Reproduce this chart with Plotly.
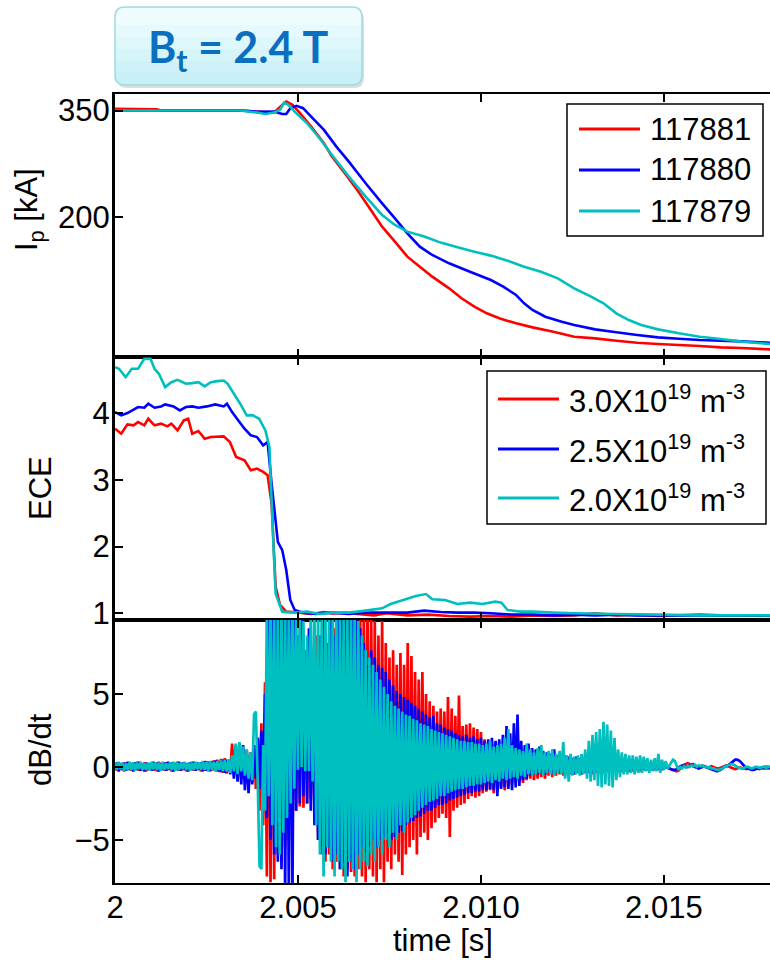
import numpy as np
import plotly.graph_objects as go

# ---------------- data ----------------
shots = ["117881", "117880", "117879"]
densities = ["3.0X10<sup>19</sup> m<sup>-3</sup>",
             "2.5X10<sup>19</sup> m<sup>-3</sup>",
             "2.0X10<sup>19</sup> m<sup>-3</sup>"]
colors = ["#ff0000", "#0000ff", "#00bfbf"]

x_tickvals = [2.0, 2.005, 2.010, 2.015]
x_ticktext = ["2", "2.005", "2.010", "2.015"]
ip_tickvals = [200, 350]
ece_tickvals = [1, 2, 3, 4]
dbdt_tickvals = [-5, 0, 5]

# Plasma current Ip [kA]
ip_t_117881 = [2.00000, 2.00114, 2.00126, 2.00342, 2.00399, 2.00434, 2.00457, 2.00468, 2.00485, 2.00502,
               2.00536, 2.00571, 2.00593, 2.00628, 2.00662, 2.00696, 2.00730, 2.00765, 2.00799, 2.00833,
               2.00867, 2.00913, 2.00947, 2.00982, 2.01016, 2.01050, 2.01096, 2.01141, 2.01198, 2.01255,
               2.01312, 2.01370, 2.01427, 2.01484, 2.01541, 2.01598, 2.01655, 2.01712, 2.01790]
ip_117881 = [352.4, 351.9, 350.1, 350.1, 348.2, 347.2, 358.1, 362.8, 358.1, 348.6,
             327.4, 303.8, 285.0, 261.4, 237.8, 211.8, 185.9, 164.7, 143.4, 129.3,
             115.1, 98.6, 84.5, 72.7, 63.3, 56.2, 49.1, 43.4, 37.3, 30.2,
             27.9, 24.6, 21.7, 19.9, 18.4, 17.0, 15.1, 14.2, 12.3]

ip_t_117880 = [2.00000, 2.00342, 2.00399, 2.00434, 2.00457, 2.00468, 2.00479, 2.00496, 2.00514, 2.00536,
               2.00571, 2.00605, 2.00639, 2.00685, 2.00730, 2.00765, 2.00799, 2.00833, 2.00867, 2.00913,
               2.00970, 2.01027, 2.01061, 2.01096, 2.01118, 2.01141, 2.01176, 2.01221, 2.01255, 2.01312,
               2.01370, 2.01427, 2.01484, 2.01541, 2.01598, 2.01655, 2.01712, 2.01790]
ip_117880 = [350.1, 350.1, 348.2, 348.6, 345.3, 345.3, 353.4, 356.7, 353.4, 341.6,
             322.7, 299.1, 277.9, 247.2, 218.9, 197.7, 176.5, 157.6, 145.8, 134.0,
             122.2, 110.4, 101.0, 89.2, 77.4, 68.0, 58.5, 51.5, 46.7, 40.6,
             36.4, 32.6, 29.3, 27.4, 25.5, 24.6, 23.6, 21.7]

ip_t_117879 = [2.00000, 2.00342, 2.00388, 2.00411, 2.00434, 2.00451, 2.00462, 2.00474, 2.00491, 2.00525,
               2.00559, 2.00593, 2.00639, 2.00685, 2.00730, 2.00765, 2.00799, 2.00845, 2.00890, 2.00936,
               2.00982, 2.01027, 2.01073, 2.01118, 2.01164, 2.01210, 2.01255, 2.01301, 2.01335, 2.01370,
               2.01404, 2.01438, 2.01484, 2.01541, 2.01598, 2.01655, 2.01712, 2.01790]
ip_117879 = [350.1, 350.1, 347.2, 345.3, 347.2, 351.0, 361.4, 358.1, 348.6, 332.1,
             310.9, 287.3, 256.7, 228.4, 202.4, 188.3, 178.8, 171.8, 163.3, 156.7,
             150.5, 144.9, 137.8, 129.3, 122.2, 112.8, 98.6, 86.8, 77.4, 63.3,
             53.8, 46.7, 40.6, 35.0, 30.2, 27.0, 23.2, 19.9]

# ECE
ece_t_30 = [2.00000, 2.00017, 2.00034, 2.00051, 2.00063, 2.00080, 2.00091, 2.00108, 2.00126, 2.00143,
            2.00154, 2.00171, 2.00188, 2.00200, 2.00211, 2.00228, 2.00245, 2.00262, 2.00297, 2.00314,
            2.00331, 2.00354, 2.00371, 2.00388, 2.00405, 2.00417, 2.00428, 2.00439, 2.00451, 2.00468,
            2.00502, 2.00536, 2.00571, 2.00593, 2.00628, 2.00662, 2.00708, 2.00742, 2.00799, 2.00856,
            2.00913, 2.00970, 2.01027, 2.01084, 2.01141, 2.01198, 2.01255, 2.01312, 2.01370, 2.01427,
            2.01484, 2.01541, 2.01598, 2.01655, 2.01712, 2.01790]
ece_30 = [3.766, 3.691, 3.831, 3.816, 3.866, 3.816, 3.915, 3.816, 3.841, 3.801,
          3.841, 3.741, 3.890, 3.915, 3.691, 3.731, 3.616, 3.641, 3.651, 3.567,
          3.342, 3.292, 3.143, 3.168, 3.118, 3.068, 2.645, 1.399, 1.125, 1.025,
          1.010, 0.990, 1.020, 1.000, 1.010, 0.990, 0.970, 1.000, 0.970, 0.980,
          0.960, 0.950, 0.960, 0.950, 0.970, 0.960, 0.970, 1.000, 0.970, 0.980,
          0.960, 0.970, 0.980, 0.970, 0.970, 0.960]

ece_t_25 = [2.00000, 2.00017, 2.00034, 2.00051, 2.00063, 2.00080, 2.00091, 2.00108, 2.00126, 2.00137,
            2.00160, 2.00177, 2.00194, 2.00211, 2.00228, 2.00251, 2.00274, 2.00297, 2.00306, 2.00320,
            2.00337, 2.00354, 2.00371, 2.00388, 2.00405, 2.00417, 2.00428, 2.00445, 2.00457, 2.00468,
            2.00479, 2.00491, 2.00514, 2.00548, 2.00593, 2.00639, 2.00685, 2.00742, 2.00799, 2.00845,
            2.00890, 2.00936, 2.00982, 2.01027, 2.01084, 2.01141, 2.01198, 2.01255, 2.01312, 2.01370,
            2.01427, 2.01484, 2.01598, 2.01712, 2.01790]
ece_25 = [4.015, 3.965, 4.000, 4.050, 4.090, 4.080, 4.140, 4.080, 4.100, 4.130,
          4.100, 4.040, 4.090, 4.100, 4.080, 4.100, 4.130, 4.100, 4.140, 4.015,
          3.890, 3.766, 3.666, 3.641, 3.517, 3.567, 2.944, 2.072, 1.947, 1.648,
          1.200, 1.050, 1.010, 0.990, 1.010, 0.990, 1.010, 1.010, 1.010, 1.040,
          1.020, 1.010, 1.010, 1.000, 0.980, 0.980, 0.970, 0.980, 0.970, 0.980,
          0.970, 0.970, 0.970, 0.970, 0.970]

ece_t_20 = [2.00000, 2.00011, 2.00029, 2.00046, 2.00063, 2.00080, 2.00097, 2.00108, 2.00120, 2.00137,
            2.00154, 2.00171, 2.00194, 2.00211, 2.00228, 2.00245, 2.00262, 2.00280, 2.00297, 2.00308,
            2.00325, 2.00342, 2.00360, 2.00377, 2.00394, 2.00411, 2.00422, 2.00434, 2.00439, 2.00457,
            2.00491, 2.00525, 2.00559, 2.00593, 2.00639, 2.00685, 2.00730, 2.00753, 2.00788, 2.00822,
            2.00850, 2.00867, 2.00902, 2.00936, 2.00970, 2.01004, 2.01039, 2.01056, 2.01073, 2.01107,
            2.01141, 2.01198, 2.01255, 2.01370, 2.01484, 2.01598, 2.01712, 2.01790]
ece_20 = [4.688, 4.663, 4.538, 4.663, 4.663, 4.812, 4.812, 4.663, 4.588, 4.389,
          4.463, 4.498, 4.439, 4.449, 4.463, 4.399, 4.463, 4.478, 4.488, 4.439,
          4.289, 4.140, 3.965, 3.965, 3.915, 3.741, 3.492, 1.897, 1.299, 1.025,
          1.010, 1.025, 0.990, 1.010, 1.010, 1.040, 1.075, 1.140, 1.200, 1.259,
          1.289, 1.210, 1.200, 1.140, 1.160, 1.140, 1.175, 1.160, 1.050, 1.025,
          1.025, 1.010, 1.000, 0.990, 0.980, 0.970, 0.970, 0.970]

# dB/dt (sampled signal, start time and sample interval)
dbdt_t0 = 2.0
dbdt_dt = 0.00005

dbdt_117881 = [
    0.25, -0.25, 0.3, -0.2, 0.2, -0.3, 0.3, -0.2, 0.25, -0.25,
    0.3, -0.2, 0.35, -0.25, 0.25, -0.2, 0.3, -0.3, 0.25, -0.2,
    0.3, -0.25, 0.2, -0.3, 0.35, -0.2, 0.25, -0.25, 0.3, -0.2,
    0.25, -0.3, 0.3, -0.2, 0.35, -0.25, 0.25, -0.2, 0.3, -0.3,
    0.25, -0.2, 0.35, -0.25, 0.3, -0.2, 0.25, -0.3, 0.35, -0.25,
    0.4, -0.3, 0.35, -0.25, 0.45, -0.3, 0.5, -0.35, 0.55, -0.4,
    0.6, -0.45,
    0.5, -0.3, 1.6, -0.4, 1.5, -0.6, 1.6, -0.8, 1.3, -1.0,
    1.2, -1.2, 1.0, -1.0, 1.5, -1.5, 2.0, -3.0, 3.0, -4.0,
    5.8, -7.5, 11, -7.9, 11, -7.7, 11, -6.0, 11, -6.5,
    11, -5.5, 11, -5.0, 11, -4.5, 11, -3.0, 9, -2.7,
    10, -2.8, 8, -2.5, 9, -2.2, 8, -3.5, 9, -5.0,
    8, -6.0, 9, -6.5, 8.5, -6.0, 9, -7.0, 9.5, -6.5,
    10, -7.0, 9, -7.5, 10, -7.0, 9.5, -7.2, 10, -7.5,
    11, -7.0, 11, -7.5, 11, -7.9, 11, -7.0, 11, -7.5,
    10, -7.9, 9, -7.0, 10, -7.9, 8.5, -6.5, 7.5, -7.0,
    8.0, -6.0, 7.0, -6.5, 7.8, -7.4, 7.0, -6.0, 8.5, -5.5,
    7.6, -5.0, 6.5, -6.0, 6.0, -4.8, 6.5, -4.5, 5.0, -5.0,
    4.5, -4.2, 4.2, -3.8, 3.8, -3.5, 4.0, -3.2, 3.8, -3.5,
    4.8, -4.8, 4.0, -3.0, 3.5, -2.8, 4.9, -2.6, 2.8, -2.5,
    2.9, -2.2, 3.0, -2.0, 2.7, -2.1, 2.6, -2.0, 2.4,
    -1.8, 1.9, -1.7, 1.8, -1.6, 1.7, -1.8, 1.6, -1.5, 1.7,
    -1.4, 1.5, -1.6, 1.4, -1.3, 1.5, -1.2, 1.3, -1.1, 1.4,
    -1.0, 1.2, -1.1, 1.1, -0.9, 1.2, -0.8, 1.0, -0.9, 1.0,
    -0.8, 0.9, -0.7, 1.0, -0.8, 0.9, -0.6, 0.8, -0.7, 0.9,
    -0.6, 0.8, -0.5, 0.7, -0.6, 0.7, -0.5, 0.6, -0.5, 0.6,
    -0.5, 0.6, -0.4, 0.5, -0.5, 0.6, -0.4, 0.5, -0.4, 0.5,
    -0.5, 0.5, -0.4, 0.5, -0.4, 0.4, -0.4, 0.5, -0.3, 0.4,
    -0.4, 0.4, -0.3, 0.4, -0.3, 0.4, -0.3, 0.3, -0.3, 0.4,
    -0.3, 0.3, -0.3, 0.3, -0.2, 0.3, -0.3, 0.3, -0.2, 0.3,
    -0.2, 0.3, -0.2, 0.2, -0.2, 0.3, -0.2, 0.2, -0.2, 0.2,
    0.0, -0.05, -0.1, -0.15, -0.2, -0.25, -0.3, -0.25, -0.1, 0.05,
    0.15, 0.2, 0.25, 0.2, 0.15, 0.2, 0.1, 0.05, 0.0, 0.05,
    0.1, 0.05, 0.0, -0.05, 0.0, 0.05, 0.0, -0.05, -0.1, -0.1,
    -0.05, 0.0, 0.05, 0.1, 0.05, 0.0, -0.05, -0.1, -0.15, -0.1,
    -0.05, -0.05, -0.1, -0.1, -0.15, -0.1, -0.1, -0.15, -0.1, -0.1,
    -0.1, -0.15, -0.1, -0.1, -0.1, -0.1, -0.1, -0.1, -0.1, -0.1]

dbdt_117880 = [
    -0.2, 0.3, -0.3, 0.25, -0.2, 0.3, -0.25, 0.35, -0.2, 0.25,
    -0.3, 0.3, -0.2, 0.35, -0.25, 0.2, -0.3, 0.3, -0.2, 0.25,
    -0.25, 0.35, -0.2, 0.3, -0.3, 0.25, -0.2, 0.3, -0.25, 0.35,
    -0.2, 0.3, -0.3, 0.25, -0.2, 0.35, -0.25, 0.3, -0.2, 0.25,
    -0.3, 0.3, -0.2, 0.35, -0.25, 0.3, -0.2, 0.3, -0.3, 0.4,
    -0.25, 0.35, -0.3, 0.4, -0.2, 0.45, -0.3, 0.4, -0.35, 0.5,
    -0.4, 0.4,
    0.3, -0.5, 0.6, -0.8, 1.2, -1.0, 1.6, -1.2, 1.5, -1.6,
    1.0, -1.8, 0.8, -1.2, 1.5, -0.8, 2.0, -1.5, 2.5, -2.0,
    5.0, -3.5, 11, -5.0, 11, -6.0, 11, -6.5, 11, -7.0,
    11, -8.5, 11, -8.5, 11, -8.5, 11, -3.0, 9, -2.5,
    11, -2.0, 7.5, -2.5, 9.5, -3.0, 8.0, -4.0, 6.5, -5.0,
    9.0, -5.5, 10, -6.0, 8.5, -5.5, 10, -6.5, 9.0, -6.0,
    11, -7.0, 10, -6.5, 11, -7.5, 11, -6.5, 10.5, -7.0,
    11, -6.0, 9.5, -5.5, 8.5, -6.0, 7.0, -5.5, 8.0, -5.0,
    7.5, -5.5, 7.0, -5.0, 6.8, -4.8, 6.5, -4.6, 6.0, -5.0,
    5.6, -4.8, 5.2, -4.5, 5.0, -4.4, 4.8, -4.0, 4.6, -3.8,
    4.4, -3.7, 4.2, -3.5, 4.0, -3.4, 3.8, -3.2, 3.6, -3.0,
    3.4, -3.0, 3.5, -2.8, 3.0, -2.6, 2.9, -2.6, 2.7, -2.5,
    2.6, -2.3, 2.5, -2.2, 2.3, -2.1, 2.2, -2.0, 2.1, -1.9,
    2.2, -1.8, 2.0, -1.8, 2.1, -1.7, 1.9, -1.7, 2.0, -1.6,
    1.8, -1.6, 1.9, -1.5, 2.0, -1.6, 1.8, -2.0, 1.9, -1.5,
    2.2, -1.4, 2.8, -1.5, 2.3, -1.6, 3.0, -1.4, 3.6, -1.3,
    1.8, -0.9, 1.5, -0.8, 1.6, -0.6, 1.3, -0.5, 1.2, -0.5,
    1.4, -0.4, 1.1, -0.5, 1.0, -0.3, 0.9, -0.4, 1.2, -0.3,
    0.8, -0.4, 0.9, -0.3, 0.8, -0.4, 0.7, -0.3,
    0.6, -0.5, 0.7, -0.4, 0.6, -0.5, 0.5, -0.4, 0.6, -0.4,
    0.5, -0.4, 0.5, -0.3, 0.5, -0.4, 0.4, -0.3, 0.5, -0.3,
    0.4, -0.3, 0.4, -0.3, 0.4, -0.3, 0.3, -0.3, 0.4, -0.2,
    0.3, -0.3, 0.3, -0.2, 0.3, -0.2, 0.3, -0.2, 0.3, -0.2,
    0.25, -0.2, 0.25, -0.2, 0.2, -0.2, 0.25, -0.15, 0.2, -0.2,
    0.2,
    0.0, -0.05, -0.1, -0.15, -0.2, -0.2, -0.15, -0.05, 0.05, 0.1,
    0.1, 0.05, 0.0, 0.05, 0.1, 0.05, 0.0, -0.05, -0.1, -0.05,
    0.0, 0.05, 0.0, -0.05, -0.1, -0.15, -0.2, -0.25, -0.3, -0.25,
    -0.2, -0.1, 0.0, 0.05, 0.1, 0.2, 0.3, 0.4, 0.5, 0.5,
    0.45, 0.35, 0.2, 0.05, -0.05, -0.1, -0.15, -0.2, -0.2, -0.15,
    -0.1, -0.1, -0.05, -0.05, 0.0, 0.0, 0.0, -0.05, 0.0, 0.0]

dbdt_117879 = [
    0.3, -0.2, 0.35, -0.15, 0.3, -0.25, 0.25, -0.2, 0.35, -0.2,
    0.3, -0.25, 0.3, -0.15, 0.35, -0.2, 0.25, -0.2, 0.3, -0.25,
    0.35, -0.15, 0.3, -0.2, 0.3, -0.25, 0.35, -0.2, 0.25, -0.15,
    0.3, -0.2, 0.35, -0.25, 0.3, -0.2, 0.3, -0.15, 0.35, -0.2,
    0.3, -0.25, 0.3, -0.2, 0.35, -0.15, 0.3, -0.2, 0.4, -0.2,
    0.35, -0.25, 0.4, -0.2, 0.35, -0.3, 0.4, -0.2, 0.45, -0.3,
    0.5, -0.3,
    0.5, -0.4, 0.8, -0.3, 1.6, -0.5, 1.7, -0.3, 1.4, -0.6,
    1.2, -0.8, 1.0, -0.9, 3.6, 3.8, -1.0, -6.8, -7.0, 1.5,
    -3.0, 11, -2.0, 11, -4.0, 11, -5.5, 11, -6.0, 11,
    -4.5, 11, -3.5, 11, -2.5, 11, -1.5, 11, -0.2, 11,
    0.0, 10, -0.3, 9, -0.3, 11, -1.0, 11, -4.0, 11,
    -6.0, 11, -7.5, 11, -5.5, 11, -6.5, 11, -7.5, 11,
    -6.5, 11, -7.0, 11, -7.9, 11, -6.5, 11, -7.0, 11,
    -7.9, 10, -7.0, 9, -6.5, 8, -6.8, 7.5, -6.0, 7.0,
    -6.5, 6.5, -5.5, 6.0, -6.0, 5.5, -5.0, 5.0, -5.5, 4.5,
    -4.5, 4.2, -5.0, 4.0, -4.0, 3.8, -4.5, 3.6, -3.8, 3.5,
    -3.5, 3.3, -3.3, 3.2, -3.0, 3.0, -2.8, 2.9, -2.6, 2.8,
    -2.4, 2.6, -2.3, 2.5, -2.2, 2.4, -2.0, 2.3, -2.0, 2.2,
    -1.8, 2.1, -1.7, 2.0, -1.6, 1.9, -1.5, 1.8, -1.5, 1.8,
    -1.4, 1.7, -1.3, 1.7, -1.3, 1.6, -1.2, 1.6, -1.2, 1.5,
    -1.1, 1.6, -1.0, 1.8, -1.1, 1.4, -0.9, 1.5, -1.0, 1.6,
    -0.8, 2.0, -0.9, 2.6, -0.8, 1.5, -0.7, 1.3, -0.8, 1.2,
    -0.6, 1.1, -0.7, 1.6, -0.5, 1.2, -0.6, 1.0, -0.5, 1.3,
    -0.4, 1.5, -0.6, 1.0, -0.4, 1.1, -0.5, 1.2, -0.6, 0.9,
    -0.4, 1.1, -0.5, 1.7, -0.8, 0.8, -1.0, 0.9, -0.6, 0.7,
    -0.5, 0.8, -0.6, 0.9, -0.5, 1.2, -0.8, 1.8, -1.0, 2.2,
    -0.9, 2.4, -1.3, 2.6, -1.4, 3.1, -1.2, 2.9, -1.3, 2.5,
    -1.4, 2.0, -0.9, 1.2, -0.7, 1.0, -0.5, 0.9, -0.5, 0.8,
    -0.4, 0.8, -0.5, 0.7, -0.4, 0.8, -0.4, 0.7, -0.3, 0.6,
    -0.4, 0.5, -0.3, 0.6, -0.3, 0.9, -0.4, 0.5, -0.2, 0.4,
    -0.1, 0.1, 0.3, 0.5, 0.4, 0.1, -0.2, 0.0, -0.1, 0.05,
    -0.05, 0.1, 0.0, 0.1, 0.05, 0.15, 0.0, 0.1, 0.05, 0.1,
    0.0, 0.05, -0.05, 0.0, -0.1, -0.1, -0.15, -0.2, -0.2, -0.15,
    -0.1, 0.0, 0.05, 0.1, 0.15, 0.2, 0.15, 0.1, 0.0, -0.05,
    -0.1, -0.1, -0.05, 0.0, 0.0, -0.05, -0.1, -0.05, 0.0, 0.0,
    -0.05, -0.05, 0.0, 0.0, -0.05, 0.0, 0.0, 0.0, 0.0]

# ---------------- figure ----------------
FONT = "Liberation Sans, Arial, sans-serif"
FS = 31
W, H = 770, 960
ML, MR, MT, MB = 115, 0, 94, 77
PW, PH = W - ML - MR, H - MT - MB


def px_x(p):
    return (p - ML) / PW


def px_y(p):
    return (H - MB - p) / PH


fig = go.Figure()

ip_sets = [(ip_t_117881, ip_117881), (ip_t_117880, ip_117880), (ip_t_117879, ip_117879)]
for (t, v), name, c in zip(ip_sets, shots, colors):
    fig.add_trace(go.Scatter(x=t, y=v, mode="lines", name=name, showlegend=False,
                             line=dict(color=c, width=2.6, simplify=False), xaxis="x", yaxis="y"))

ece_sets = [(ece_t_30, ece_30), (ece_t_25, ece_25), (ece_t_20, ece_20)]
for (t, v), name, c in zip(ece_sets, densities, colors):
    fig.add_trace(go.Scatter(x=t, y=v, mode="lines", name=name, showlegend=False,
                             line=dict(color=c, width=2.6, simplify=False), xaxis="x2", yaxis="y2"))

for vals, c in zip([dbdt_117881, dbdt_117880, dbdt_117879], colors):
    t = dbdt_t0 + dbdt_dt * np.arange(len(vals))
    fig.add_trace(go.Scatter(x=t, y=vals, mode="lines", showlegend=False,
                             line=dict(color=c, width=2.7, simplify=False), xaxis="x3", yaxis="y3"))

xr = [2.0, 2.0179]
xcommon = dict(range=xr, showline=True, linecolor="black", linewidth=2, mirror="ticks",
               ticks="inside", ticklen=8, tickwidth=2, tickcolor="black", showgrid=False,
               zeroline=False, tickvals=x_tickvals, ticktext=x_ticktext,
               tickfont=dict(family=FONT, size=FS, color="black"))
ycommon = dict(showline=True, linecolor="black", linewidth=3, mirror=False,
               ticks="inside", ticklen=8, tickwidth=2, tickcolor="black", showgrid=False,
               zeroline=False, tickfont=dict(family=FONT, size=FS, color="black"),
               ticklabelstandoff=-4)

fig.update_layout(
    width=W, height=H, margin=dict(l=ML, r=MR, t=MT, b=MB),
    paper_bgcolor="white", plot_bgcolor="white",
    font=dict(family=FONT, size=FS, color="black"),
    showlegend=False,
    xaxis=dict(xcommon, anchor="y", showticklabels=False),
    xaxis2=dict(xcommon, anchor="y2", matches="x", showticklabels=False),
    xaxis3=dict(xcommon, anchor="y3", matches="x", showticklabels=True, ticklabelstandoff=-4),
    yaxis=dict(ycommon, domain=[2 / 3, 1], anchor="x", range=[1.5, 373.5], tickvals=ip_tickvals),
    yaxis2=dict(ycommon, domain=[1 / 3, 2 / 3], anchor="x2", range=[0.9, 4.84], tickvals=ece_tickvals),
    yaxis3=dict(ycommon, domain=[0, 1 / 3], anchor="x3", range=[-7.95, 10.07], tickvals=dbdt_tickvals),
)

txt = dict(xref="paper", yref="paper", showarrow=False, xanchor="center", yanchor="middle",
           font=dict(family=FONT, size=FS, color="black"))

# axis titles
fig.add_annotation(text="I<sub>p</sub> [kA]", x=px_x(29), y=px_y(210), textangle=-90, **txt)
fig.add_annotation(text="ECE", x=px_x(40), y=px_y(488), textangle=-90, **txt)
fig.add_annotation(text="dB/dt", x=px_x(40), y=px_y(750), textangle=-90, **txt)
fig.add_annotation(text="time [s]", x=px_x(443), y=px_y(940), **txt)


# legends (boxed, MATLAB style)
def add_legend(box, line_x, rows, names):
    x0, y0, x1, y1 = box
    fig.add_shape(type="rect", xref="paper", yref="paper", x0=px_x(x0), x1=px_x(x1),
                  y0=px_y(y0), y1=px_y(y1), fillcolor="white",
                  line=dict(color="black", width=1.5), layer="above")
    for ry, name, c in zip(rows, names, colors):
        fig.add_shape(type="line", xref="paper", yref="paper", x0=px_x(line_x[0]), x1=px_x(line_x[1]),
                      y0=px_y(ry), y1=px_y(ry), line=dict(color=c, width=3), layer="above")
        fig.add_annotation(text=name, x=px_x(line_x[1] + 8), y=px_y(ry),
                           xref="paper", yref="paper", showarrow=False, xanchor="left",
                           yanchor="middle", font=dict(family=FONT, size=FS, color="black"))


add_legend((567, 104, 763, 236), (579, 640), [129, 170, 211], shots)
add_legend((487, 371, 766, 524), (498, 559), [399, 449, 498], densities)

# title box with rounded corners and soft gradient
BW, BH, R = 247, 78, 10


def rrect(x0, y0, x1, y1, r, top_round=True):
    if top_round:
        return (f"M {x0+r},{y0} L {x1-r},{y0} Q {x1},{y0} {x1},{y0+r} L {x1},{y1-r} "
                f"Q {x1},{y1} {x1-r},{y1} L {x0+r},{y1} Q {x0},{y1} {x0},{y1-r} "
                f"L {x0},{y0+r} Q {x0},{y0} {x0+r},{y0} Z")
    return (f"M {x0},{y1} L {x0},{y0+r} Q {x0},{y0} {x0+r},{y0} L {x1-r},{y0} "
            f"Q {x1},{y0} {x1},{y0+r} L {x1},{y1} Z")


anchor = dict(xref="paper", yref="paper", xsizemode="pixel", ysizemode="pixel",
              xanchor=0, yanchor=px_y(85), layer="above")
fig.add_shape(type="path", path=rrect(2, -3, BW + 2, BH - 3, R), fillcolor="rgba(0,0,0,0.13)",
              line=dict(width=0), **anchor)
fig.add_shape(type="path", path=rrect(0, 0, BW, BH, R), fillcolor="#eefcfe",
              line=dict(width=0), **anchor)
bands = [(60, "#e6fafd"), (48, "#ddf7fb"), (36, "#d5f5f9"), (24, "#cef2f7"), (13, "#c8f0f6")]
for top, col in bands:
    fig.add_shape(type="path", path=rrect(0, 0, BW, top, R, top_round=False), fillcolor=col,
                  line=dict(width=0), **anchor)
fig.add_shape(type="path", path=rrect(0, 0, BW, BH, R), fillcolor="rgba(0,0,0,0)",
              line=dict(color="#9fd9e3", width=1.5), **anchor)
fig.add_annotation(text="<b>B<sub>t</sub> = 2.4 T</b>", x=px_x(238), y=px_y(50),
                   xref="paper", yref="paper", showarrow=False, xanchor="center", yanchor="middle",
                   font=dict(family="Lato, Open Sans, sans-serif", size=43, color="#0b6fbf"))

fig.write_html("out.html")
